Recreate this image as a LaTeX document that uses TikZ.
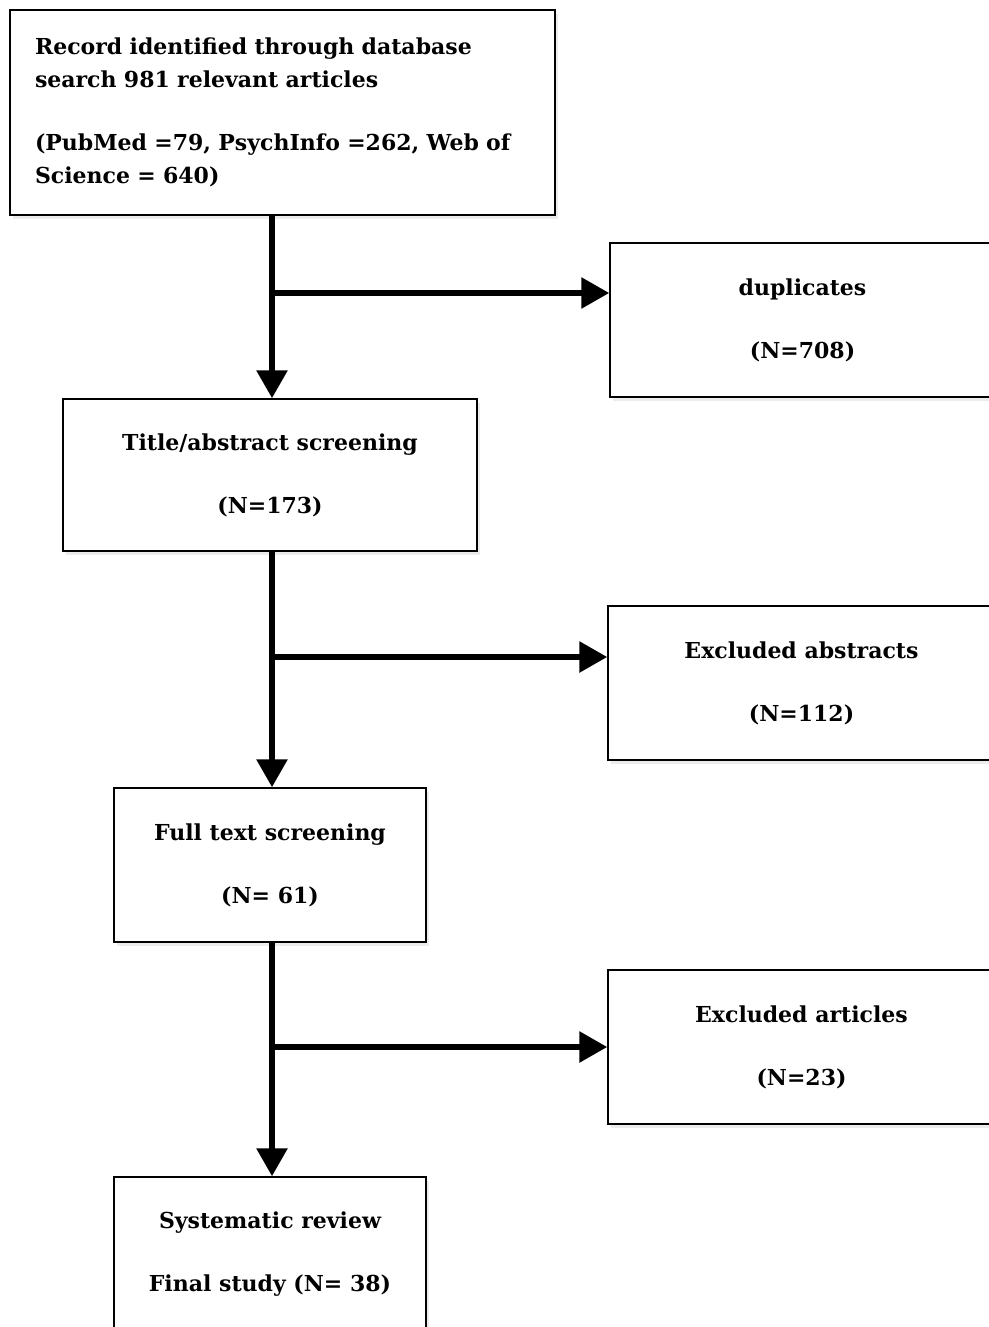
\documentclass[tikz,border=0pt]{standalone}
\usepackage{fontspec}
\setmainfont{DejaVu Serif}
\usetikzlibrary{arrows.meta,positioning,shadows}

\begin{document}
\begin{tikzpicture}[x=1pt,y=-1pt,
stage/.style={draw,line width=1.5pt,fill=white,align=center,inner sep=0pt,
font=\bfseries\fontsize{22}{33}\selectfont,
drop shadow={shadow xshift=3pt,shadow yshift=-4pt,opacity=0.15}},
flow/.style={line width=6pt,-{Triangle[length=28pt,width=30pt]}}]
\useasboundingbox (0,0) rectangle (988,1327);

\node[stage,align=left,text width=495pt,minimum width=545pt,minimum height=205pt] (A1) at (282.5,112.5)
{Record identified through database\\search 981 relevant articles\\[30pt](PubMed =79, PsychInfo =262, Web of\\Science = 640)};
\node[stage,minimum width=385pt,minimum height=154pt] (A2) at (802.5,320) {duplicates\\[30pt](N=708)};
\node[stage,minimum width=414pt,minimum height=152pt] (A3) at (270,475) {Title/abstract screening\\[30pt](N=173)};
\node[stage,minimum width=387pt,minimum height=154pt] (A4) at (801.5,683) {Excluded abstracts\\[30pt](N=112)};
\node[stage,minimum width=312pt,minimum height=154pt] (A5) at (270,865) {Full text screening\\[30pt](N= 61)};
\node[stage,minimum width=387pt,minimum height=154pt] (A6) at (801.5,1047) {Excluded articles\\[30pt](N=23)};
\node[stage,minimum width=312pt,minimum height=154pt] (A7) at (270,1254) {Systematic review\\[30pt]Final study (N= 38)};

\coordinate (B1) at (272,293);
\coordinate (B2) at (272,657);
\coordinate (B3) at (272,1047);

\draw[flow] (B1 |- A1.south)--(B1 |- A3.north);
\draw[flow] (B1)--(B1 -| A2.west);
\draw[flow] (B2 |- A3.south)--(B2 |- A5.north);
\draw[flow] (B2)--(B2 -| A4.west);
\draw[flow] (B3 |- A5.south)--(B3 |- A7.north);
\draw[flow] (B3)--(B3 -| A6.west);

\end{tikzpicture}
\end{document}
